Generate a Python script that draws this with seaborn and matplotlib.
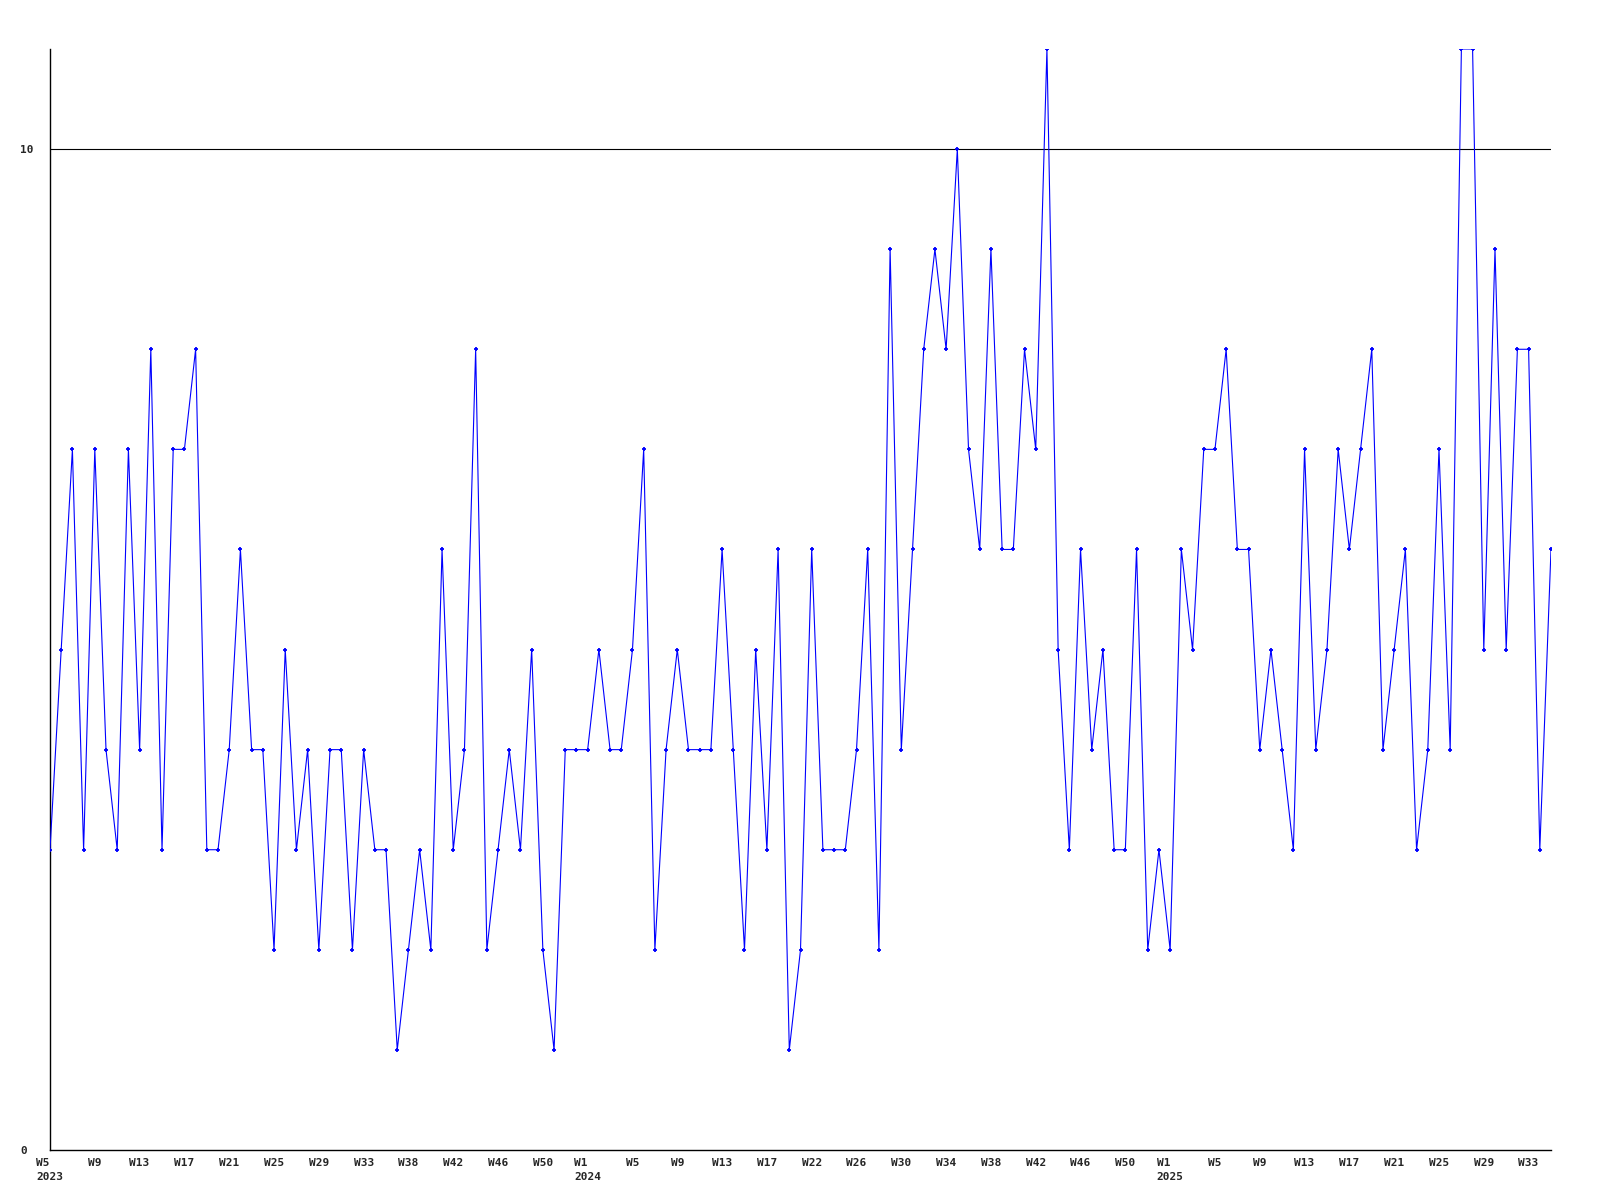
import numpy as np
import matplotlib
matplotlib.use("Agg")
import matplotlib.pyplot as plt
import seaborn as sns

# weekly counts, 2023 W5 .. 2025 W35
counts = [3, 5, 7, 3, 7, 4, 3, 7, 4, 8,
          3, 7, 7, 8, 3, 3, 4, 6, 4, 4,
          2, 5, 3, 4, 2, 4, 4, 2, 4, 3,
          3, 1, 2, 3, 2, 6, 3, 4, 8, 2,
          3, 4, 3, 5, 2, 1, 4, 4, 4, 5,
          4, 4, 5, 7, 2, 4, 5, 4, 4, 4,
          6, 4, 2, 5, 3, 6, 1, 2, 6, 3,
          3, 3, 4, 6, 2, 9, 4, 6, 8, 9,
          8, 10, 7, 6, 9, 6, 6, 8, 7, 11,
          5, 3, 6, 4, 5, 3, 3, 6, 2, 3,
          2, 6, 5, 7, 7, 8, 6, 6, 4, 5,
          4, 3, 7, 4, 5, 7, 6, 7, 8, 4,
          5, 6, 3, 4, 7, 4, 11, 11, 5, 9,
          5, 8, 8, 3, 6]

# one label every 4th point
week_labels = ["W5\n2023", "W9", "W13", "W17", "W21", "W25", "W29", "W33",
               "W38", "W42", "W46", "W50",
               "W1\n2024", "W5", "W9", "W13", "W17", "W22", "W26", "W30",
               "W34", "W38", "W42", "W46", "W50",
               "W1\n2025", "W5", "W9", "W13", "W17", "W21", "W25", "W29", "W33"]
label_step = 4

y_ticks = [0, 10]

sns.set_style("white")
plt.rcParams['font.family'] = ['DejaVu Sans Mono']

idx = np.arange(len(counts))

fig = plt.figure(figsize=(16, 12), dpi=100)
ax = fig.add_axes([50 / 1600, 50 / 1200, 1501 / 1600, 1101 / 1200])

ax.axhline(10, color='black', linewidth=0.8, zorder=1)
sns.lineplot(x=idx, y=counts, estimator=None, color='#0000ff', linewidth=0.8,
             marker='+', markersize=3.5, markeredgewidth=1.3,
             markeredgecolor='#0000ff', ax=ax, zorder=3)

ax.set_xlim(0, len(counts) - 1)
ax.set_ylim(0, 11)
ax.set_xticks(idx[::label_step][:len(week_labels)])
ax.set_xticklabels(week_labels, fontsize=8, fontweight='bold', linespacing=1.5)
for lbl in ax.get_xticklabels():
    lbl.set_multialignment('left')
ax.set_yticks(y_ticks)
ax.set_yticklabels([str(v) for v in y_ticks], fontsize=8, fontweight='bold')
for lbl in ax.get_yticklabels():
    lbl.set_horizontalalignment('left')
ax.tick_params(axis='y', length=0, pad=21.5)
ax.tick_params(axis='x', length=0, pad=6)

for s in ['top', 'right']:
    ax.spines[s].set_visible(False)
for s in ['left', 'bottom']:
    ax.spines[s].set_color('black')
    ax.spines[s].set_linewidth(1)
ax.set_xlabel('')
ax.set_ylabel('')

fig.savefig('out.png', dpi=100)
